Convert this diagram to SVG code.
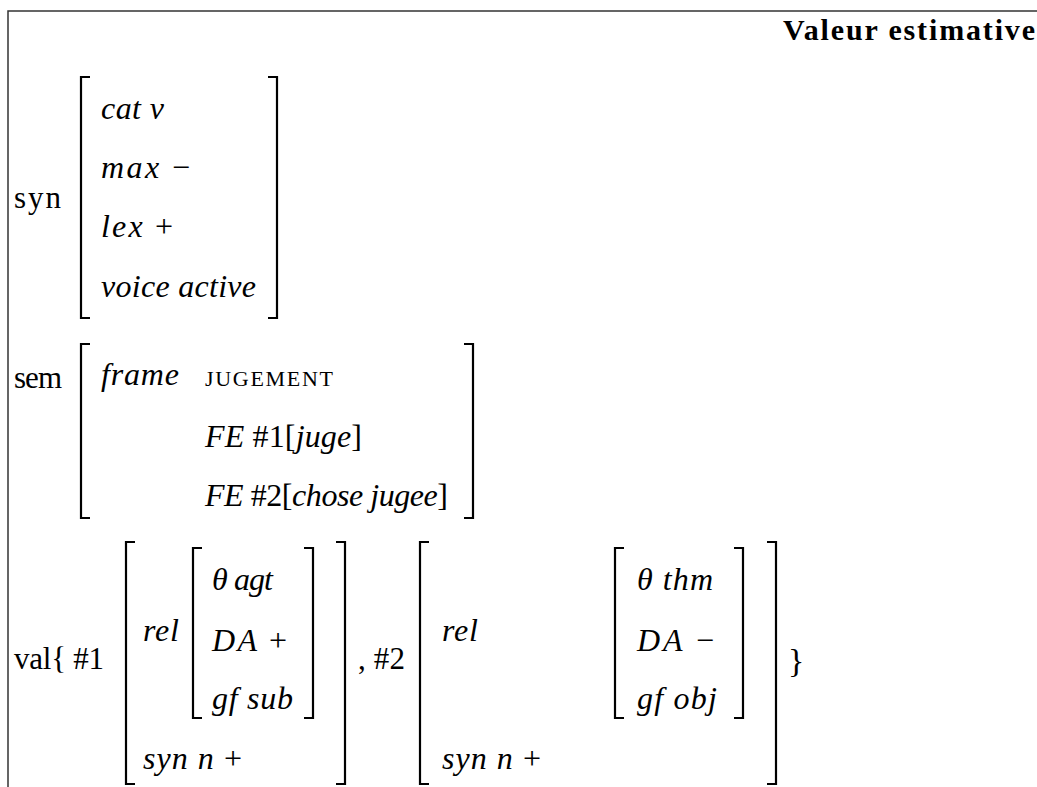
<svg xmlns="http://www.w3.org/2000/svg" width="1037" height="787" viewBox="0 0 1037 787">
<style>
text{font-family:"Liberation Serif","Times New Roman",serif;font-size:31px;fill:#000}
.i{font-style:italic;font-size:32px}
.u{font-style:normal}
.b{font-weight:bold;font-size:30px}
.sc{font-size:22px}
.br{fill:none;stroke:#000;stroke-width:2.2}
.frame{fill:none;stroke:#333;stroke-width:1.5}
</style>
<rect width="1037" height="787" fill="#fff"/>
<path class="frame" d="M8,787 V11 H1037"/>
<g id="title"><text class="b" x="783" y="40" textLength="252">Valeur estimative</text></g>
<g id="syn">
<text x="14" y="208" textLength="47">syn</text>
<path class="br" d="M90,77 H81 V318 H90"/>
<path class="br" d="M268,77 H277 V318 H268"/>
<text class="i" x="101" y="119" textLength="63">cat v</text>
<text class="i" x="101" y="178" textLength="89">max <tspan class="u">−</tspan></text>
<text class="i" x="101" y="237" textLength="72">lex <tspan class="u">+</tspan></text>
<text class="i" x="101" y="297" textLength="155">voice active</text>
</g>
<g id="sem">
<text x="14" y="388" textLength="48">sem</text>
<path class="br" d="M90,344 H81 V518 H90"/>
<path class="br" d="M464,344 H473 V518 H464"/>
<text class="i" x="101" y="385" textLength="78">frame</text>
<text class="sc" x="205" y="386" textLength="128">JUGEMENT</text>
<text class="i" x="205" y="447" textLength="157">FE <tspan class="u">#1[</tspan>juge<tspan class="u">]</tspan></text>
<text class="i" x="205" y="506" textLength="243">FE <tspan class="u">#2[</tspan>chose jugee<tspan class="u">]</tspan></text>
</g>
<g id="val">
<text x="14" y="669" textLength="90">val{ #1</text>
<text x="358" y="669" textLength="47">, #2</text>
<text x="788" y="672" style="font-size:34px">}</text>
</g>
<g id="val1">
<path class="br" d="M135,542 H126 V784 H135"/>
<path class="br" d="M336,542 H345 V784 H336"/>
<path class="br" d="M202,548 H193 V718 H202"/>
<path class="br" d="M304,548 H313 V718 H304"/>
<text class="i" x="143" y="641" textLength="36">rel</text>
<text class="i" x="212" y="590" textLength="61">θ agt</text>
<text class="i" x="212" y="651" textLength="75">DA <tspan class="u">+</tspan></text>
<text class="i" x="212" y="709" textLength="81">gf sub</text>
<text class="i" x="143" y="769" textLength="99">syn n <tspan class="u">+</tspan></text>
</g>
<g id="val2">
<path class="br" d="M429,542 H420 V784 H429"/>
<path class="br" d="M767,542 H776 V784 H767"/>
<path class="br" d="M624,548 H615 V718 H624"/>
<path class="br" d="M734,548 H743 V718 H734"/>
<text class="i" x="442" y="641" textLength="36">rel</text>
<text class="i" x="637" y="590" textLength="76">θ thm</text>
<text class="i" x="637" y="651" textLength="77">DA <tspan class="u">−</tspan></text>
<text class="i" x="637" y="709" textLength="80">gf obj</text>
<text class="i" x="442" y="769" textLength="99">syn n <tspan class="u">+</tspan></text>
</g>
</svg>
